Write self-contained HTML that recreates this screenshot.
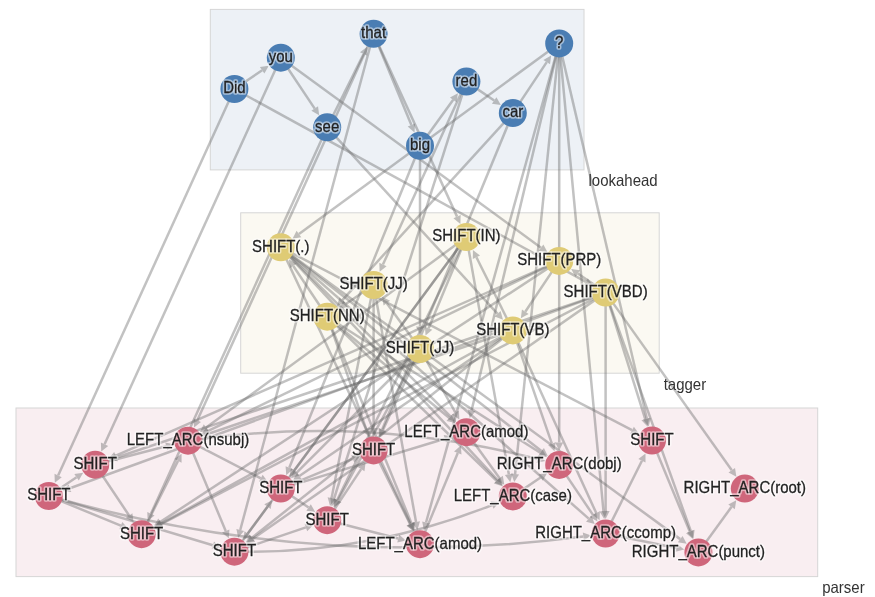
<!DOCTYPE html><html><head><meta charset="utf-8"><style>
html,body{margin:0;padding:0;background:#fff;width:875px;height:597px;overflow:hidden}
svg{display:block;will-change:transform}
text{font-family:"Liberation Sans",sans-serif;}
.lbl{font-size:15px;fill:#222;text-anchor:middle;stroke:#222;stroke-width:0.25px}
.halo{font-size:15px;fill:none;text-anchor:middle;stroke:#fff;stroke-opacity:0.5;stroke-width:3.5px;stroke-linejoin:round}
.cl{font-size:15px;fill:#333}
.eg{opacity:0.4}
.eg line{stroke:#666;stroke-width:2.5}
.eg path{fill:#666}
.eg path.ln{fill:none;stroke:#666;stroke-width:2.5}
</style></head><body>
<svg width="875" height="597" viewBox="0 0 875 597">

<rect x="210.3" y="9.4" width="373.7" height="160.5" fill="#edf1f6" stroke="#d6d6d6" stroke-width="1"/>
<rect x="240.7" y="212.8" width="418.5" height="160.4" fill="#fbf9f2" stroke="#d6d6d6" stroke-width="1"/>
<rect x="16.0" y="408.0" width="801.7" height="168.6" fill="#f9eef1" stroke="#d6d6d6" stroke-width="1"/>
<g class="eg"><line x1="234.40" y1="89.00" x2="262.15" y2="70.28"/><path d="M268.78,65.81L264.38,73.60L259.91,66.97Z"/></g>
<g class="eg"><line x1="280.80" y1="57.70" x2="314.72" y2="108.58"/><path d="M319.16,115.24L311.39,110.80L318.05,106.36Z"/></g>
<g class="eg"><line x1="327.20" y1="127.30" x2="363.60" y2="53.95"/><path d="M367.15,46.79L367.18,55.73L360.02,52.18Z"/></g>
<g class="eg"><line x1="373.60" y1="33.80" x2="411.39" y2="125.01"/><path d="M414.45,132.40L407.69,126.54L415.08,123.48Z"/></g>
<g class="eg"><line x1="420.00" y1="145.80" x2="453.22" y2="99.84"/><path d="M457.91,93.35L456.46,102.18L449.98,97.49Z"/></g>
<g class="eg"><line x1="466.40" y1="81.60" x2="494.18" y2="100.46"/><path d="M500.80,104.96L491.94,103.77L496.43,97.15Z"/></g>
<g class="eg"><line x1="512.80" y1="113.10" x2="546.73" y2="62.13"/><path d="M551.16,55.47L550.06,64.35L543.40,59.91Z"/></g>
<g class="eg"><line x1="234.40" y1="89.00" x2="585.87" y2="281.78"/><path d="M592.89,285.63L583.95,285.29L587.80,278.27Z"/></g>
<g class="eg"><line x1="280.80" y1="57.70" x2="541.03" y2="247.64"/><path d="M547.49,252.35L538.67,250.87L543.38,244.40Z"/></g>
<g class="eg"><line x1="327.20" y1="127.30" x2="497.62" y2="313.79"/><path d="M503.02,319.70L494.67,316.49L500.57,311.09Z"/></g>
<g class="eg"><line x1="373.60" y1="33.80" x2="457.06" y2="216.63"/><path d="M460.38,223.91L453.42,218.29L460.70,214.97Z"/></g>
<g class="eg"><line x1="420.00" y1="145.80" x2="420.00" y2="326.50"/><path d="M420.00,334.50L416.00,326.50L424.00,326.50Z"/></g>
<g class="eg"><line x1="466.40" y1="81.60" x2="382.94" y2="264.53"/><path d="M379.62,271.81L379.30,262.87L386.58,266.19Z"/></g>
<g class="eg"><line x1="512.80" y1="113.10" x2="342.36" y2="300.07"/><path d="M336.97,305.98L339.40,297.38L345.31,302.77Z"/></g>
<g class="eg"><line x1="559.20" y1="43.40" x2="298.95" y2="234.01"/><path d="M292.50,238.73L296.59,230.78L301.32,237.23Z"/></g>
<g class="eg"><line x1="605.60" y1="292.60" x2="577.78" y2="273.59"/><path d="M571.17,269.08L580.03,270.29L575.52,276.90Z"/></g>
<g class="eg"><line x1="559.20" y1="260.90" x2="525.29" y2="311.69"/><path d="M520.85,318.34L521.97,309.47L528.62,313.91Z"/></g>
<g class="eg"><line x1="512.80" y1="330.40" x2="476.42" y2="257.25"/><path d="M472.86,250.08L480.00,255.46L472.84,259.03Z"/></g>
<g class="eg"><line x1="466.40" y1="237.10" x2="428.62" y2="328.22"/><path d="M425.55,335.61L424.92,326.68L432.31,329.75Z"/></g>
<g class="eg"><line x1="420.00" y1="349.00" x2="386.81" y2="303.22"/><path d="M382.11,296.74L390.05,300.87L383.57,305.56Z"/></g>
<g class="eg"><line x1="373.60" y1="285.00" x2="345.78" y2="304.01"/><path d="M339.17,308.52L343.52,300.70L348.03,307.31Z"/></g>
<g class="eg"><line x1="327.20" y1="316.70" x2="293.31" y2="266.00"/><path d="M288.86,259.35L296.63,263.78L289.98,268.23Z"/></g>
<g class="eg"><line x1="234.40" y1="89.00" x2="58.14" y2="475.53"/><path d="M54.82,482.81L54.50,473.87L61.78,477.19Z"/></g>
<g class="eg"><line x1="280.80" y1="57.70" x2="104.54" y2="444.23"/><path d="M101.22,451.51L100.90,442.57L108.18,445.89Z"/></g>
<g class="eg"><line x1="327.20" y1="127.30" x2="150.94" y2="513.73"/><path d="M147.62,521.01L147.30,512.07L154.58,515.39Z"/></g>
<g class="eg"><line x1="373.60" y1="33.80" x2="197.34" y2="420.23"/><path d="M194.02,427.51L193.70,418.57L200.98,421.89Z"/></g>
<g class="eg"><line x1="373.60" y1="33.80" x2="240.24" y2="529.97"/><path d="M238.16,537.70L236.38,528.93L244.10,531.01Z"/></g>
<g class="eg"><line x1="420.00" y1="145.80" x2="289.27" y2="467.75"/><path d="M286.26,475.17L285.56,466.25L292.97,469.26Z"/></g>
<g class="eg"><line x1="466.40" y1="81.60" x2="334.01" y2="498.75"/><path d="M331.59,506.38L330.19,497.54L337.82,499.96Z"/></g>
<g class="eg"><line x1="512.80" y1="113.10" x2="382.18" y2="429.60"/><path d="M379.13,437.00L378.49,428.08L385.88,431.13Z"/></g>
<g class="eg"><line x1="559.20" y1="43.40" x2="426.03" y2="522.52"/><path d="M423.88,530.23L422.17,521.45L429.88,523.59Z"/></g>
<g class="eg"><line x1="559.20" y1="43.40" x2="471.62" y2="410.31"/><path d="M469.77,418.10L467.73,409.39L475.51,411.24Z"/></g>
<g class="eg"><line x1="559.20" y1="43.40" x2="515.09" y2="474.02"/><path d="M514.28,481.98L511.11,473.61L519.07,474.42Z"/></g>
<g class="eg"><line x1="559.20" y1="43.40" x2="559.20" y2="442.40"/><path d="M559.20,450.40L555.20,442.40L563.20,442.40Z"/></g>
<g class="eg"><line x1="559.20" y1="43.40" x2="603.48" y2="511.10"/><path d="M604.23,519.06L599.50,511.48L607.46,510.72Z"/></g>
<g class="eg"><line x1="559.20" y1="43.40" x2="646.88" y2="418.69"/><path d="M648.70,426.48L642.99,419.60L650.78,417.78Z"/></g>
<g class="eg"><line x1="605.60" y1="292.60" x2="69.93" y2="488.28"/><path d="M62.42,491.02L68.56,484.52L71.31,492.04Z"/></g>
<g class="eg"><line x1="559.20" y1="260.90" x2="115.80" y2="455.65"/><path d="M108.48,458.87L114.19,451.99L117.41,459.31Z"/></g>
<g class="eg"><line x1="605.60" y1="292.60" x2="116.52" y2="457.51"/><path d="M108.94,460.07L115.24,453.72L117.80,461.30Z"/></g>
<g class="eg"><line x1="512.80" y1="330.40" x2="161.32" y2="523.37"/><path d="M154.31,527.22L159.40,519.87L163.25,526.88Z"/></g>
<g class="eg"><line x1="559.20" y1="260.90" x2="160.43" y2="521.88"/><path d="M153.73,526.26L158.24,518.53L162.62,525.23Z"/></g>
<g class="eg"><line x1="605.60" y1="292.60" x2="161.56" y2="523.81"/><path d="M154.46,527.50L159.71,520.26L163.40,527.36Z"/></g>
<g class="eg"><line x1="466.40" y1="237.10" x2="206.16" y2="427.42"/><path d="M199.70,432.14L203.80,424.19L208.52,430.65Z"/></g>
<g class="eg"><line x1="512.80" y1="330.40" x2="209.31" y2="433.46"/><path d="M201.73,436.04L208.02,429.68L210.59,437.25Z"/></g>
<g class="eg"><line x1="559.20" y1="260.90" x2="208.25" y2="430.89"/><path d="M201.05,434.38L206.51,427.29L209.99,434.49Z"/></g>
<g class="eg"><line x1="466.40" y1="237.10" x2="247.75" y2="533.59"/><path d="M243.01,540.03L244.53,531.22L250.97,535.97Z"/></g>
<g class="eg"><line x1="512.80" y1="330.40" x2="252.01" y2="537.70"/><path d="M245.75,542.68L249.52,534.57L254.50,540.83Z"/></g>
<g class="eg"><line x1="605.60" y1="292.60" x2="252.85" y2="538.82"/><path d="M246.29,543.40L250.56,535.54L255.14,542.10Z"/></g>
<g class="eg"><line x1="420.00" y1="349.00" x2="296.69" y2="472.67"/><path d="M291.04,478.33L293.85,469.84L299.52,475.49Z"/></g>
<g class="eg"><line x1="466.40" y1="237.10" x2="294.16" y2="470.50"/><path d="M289.41,476.93L290.94,468.12L297.38,472.87Z"/></g>
<g class="eg"><line x1="512.80" y1="330.40" x2="299.39" y2="475.92"/><path d="M292.78,480.43L297.14,472.62L301.64,479.23Z"/></g>
<g class="eg"><line x1="373.60" y1="285.00" x2="331.55" y2="498.13"/><path d="M330.01,505.97L327.63,497.35L335.48,498.90Z"/></g>
<g class="eg"><line x1="420.00" y1="349.00" x2="337.92" y2="500.42"/><path d="M334.11,507.45L334.41,498.51L341.44,502.33Z"/></g>
<g class="eg"><line x1="466.40" y1="237.10" x2="337.13" y2="500.01"/><path d="M333.60,507.19L333.54,498.24L340.72,501.77Z"/></g>
<g class="eg"><line x1="327.20" y1="316.70" x2="366.22" y2="429.14"/><path d="M368.85,436.70L362.44,430.46L370.00,427.83Z"/></g>
<g class="eg"><line x1="373.60" y1="285.00" x2="373.60" y2="427.90"/><path d="M373.60,435.90L369.60,427.90L377.60,427.90Z"/></g>
<g class="eg"><line x1="420.00" y1="349.00" x2="382.96" y2="429.94"/><path d="M379.63,437.21L379.32,428.28L386.60,431.60Z"/></g>
<g class="eg"><line x1="280.80" y1="247.30" x2="410.45" y2="523.83"/><path d="M413.84,531.07L406.83,525.53L414.07,522.13Z"/></g>
<g class="eg"><line x1="327.20" y1="316.70" x2="411.50" y2="523.37"/><path d="M414.52,530.77L407.80,524.88L415.21,521.86Z"/></g>
<g class="eg"><line x1="373.60" y1="285.00" x2="416.04" y2="522.05"/><path d="M417.44,529.93L412.10,522.76L419.97,521.35Z"/></g>
<g class="eg"><line x1="280.80" y1="247.30" x2="450.46" y2="416.32"/><path d="M456.13,421.97L447.64,419.15L453.28,413.49Z"/></g>
<g class="eg"><line x1="327.20" y1="316.70" x2="449.08" y2="417.83"/><path d="M455.24,422.94L446.53,420.91L451.64,414.75Z"/></g>
<g class="eg"><line x1="420.00" y1="349.00" x2="455.44" y2="412.55"/><path d="M459.34,419.54L451.95,414.50L458.93,410.60Z"/></g>
<g class="eg"><line x1="280.80" y1="247.30" x2="497.47" y2="479.94"/><path d="M502.92,485.79L494.54,482.66L500.39,477.21Z"/></g>
<g class="eg"><line x1="327.20" y1="316.70" x2="496.64" y2="480.75"/><path d="M502.38,486.31L493.85,483.62L499.42,477.88Z"/></g>
<g class="eg"><line x1="466.40" y1="237.10" x2="508.84" y2="474.25"/><path d="M510.25,482.13L504.90,474.96L512.77,473.55Z"/></g>
<g class="eg"><line x1="280.80" y1="247.30" x2="541.47" y2="451.04"/><path d="M547.78,455.97L539.01,454.20L543.94,447.89Z"/></g>
<g class="eg"><line x1="327.20" y1="316.70" x2="540.24" y2="452.79"/><path d="M546.98,457.09L538.09,456.16L542.39,449.42Z"/></g>
<g class="eg"><line x1="512.80" y1="330.40" x2="551.86" y2="443.63"/><path d="M554.47,451.19L548.08,444.93L555.64,442.33Z"/></g>
<g class="eg"><line x1="280.80" y1="247.30" x2="588.72" y2="518.62"/><path d="M594.72,523.91L586.07,521.63L591.36,515.62Z"/></g>
<g class="eg"><line x1="512.80" y1="330.40" x2="596.25" y2="513.04"/><path d="M599.57,520.31L592.61,514.70L599.89,511.37Z"/></g>
<g class="eg"><line x1="605.60" y1="292.60" x2="605.60" y2="511.00"/><path d="M605.60,519.00L601.60,511.00L609.60,511.00Z"/></g>
<g class="eg"><line x1="280.80" y1="247.30" x2="632.04" y2="430.21"/><path d="M639.14,433.90L630.20,433.76L633.89,426.66Z"/></g>
<g class="eg"><line x1="605.60" y1="292.60" x2="645.27" y2="419.13"/><path d="M647.66,426.76L641.45,420.33L649.09,417.93Z"/></g>
<g class="eg"><line x1="280.80" y1="247.30" x2="680.23" y2="539.13"/><path d="M686.69,543.85L677.87,542.36L682.59,535.90Z"/></g>
<g class="eg"><line x1="605.60" y1="292.60" x2="690.83" y2="531.21"/><path d="M693.52,538.74L687.06,532.56L694.60,529.87Z"/></g>
<g class="eg"><line x1="605.60" y1="292.60" x2="731.77" y2="470.26"/><path d="M736.40,476.78L728.51,472.57L735.03,467.94Z"/></g>
<g class="eg"><line x1="48.80" y1="496.00" x2="76.55" y2="477.28"/><path d="M83.18,472.81L78.78,480.60L74.31,473.97Z"/></g>
<g class="eg"><line x1="95.20" y1="464.70" x2="129.11" y2="515.49"/><path d="M133.55,522.14L125.78,517.71L132.43,513.27Z"/></g>
<g class="eg"><line x1="48.80" y1="496.00" x2="120.79" y2="525.64"/><path d="M128.19,528.68L119.27,529.33L122.32,521.94Z"/></g>
<g class="eg"><line x1="141.60" y1="534.20" x2="178.00" y2="460.85"/><path d="M181.55,453.69L181.58,462.63L174.42,459.08Z"/></g>
<g class="eg"><line x1="95.20" y1="464.70" x2="166.22" y2="446.33"/><path d="M173.96,444.33L167.22,450.21L165.22,442.46Z"/></g>
<g class="eg"><line x1="188.00" y1="440.70" x2="225.72" y2="530.94"/><path d="M228.81,538.32L222.03,532.48L229.41,529.40Z"/></g>
<g class="eg"><line x1="48.80" y1="496.00" x2="212.85" y2="545.23"/><path d="M220.51,547.53L211.70,549.06L214.00,541.40Z"/></g>
<g class="eg"><line x1="234.40" y1="551.70" x2="267.47" y2="506.73"/><path d="M272.21,500.28L270.69,509.10L264.25,504.36Z"/></g>
<g class="eg"><line x1="188.00" y1="440.70" x2="260.81" y2="478.28"/><path d="M267.92,481.95L258.97,481.83L262.64,474.73Z"/></g>
<g class="eg"><line x1="280.80" y1="488.60" x2="308.60" y2="507.53"/><path d="M315.22,512.04L306.35,510.84L310.85,504.23Z"/></g>
<g class="eg"><line x1="234.40" y1="551.70" x2="305.89" y2="527.43"/><path d="M313.47,524.86L307.18,531.22L304.61,523.64Z"/></g>
<g class="eg"><line x1="327.20" y1="520.20" x2="361.14" y2="469.14"/><path d="M365.57,462.48L364.48,471.35L357.81,466.92Z"/></g>
<g class="eg"><line x1="280.80" y1="488.60" x2="352.79" y2="458.96"/><path d="M360.19,455.92L354.32,462.66L351.27,455.27Z"/></g>
<g class="eg"><line x1="373.60" y1="450.40" x2="410.02" y2="524.03"/><path d="M413.57,531.20L406.44,525.81L413.61,522.26Z"/></g>
<g class="eg"><line x1="327.20" y1="520.20" x2="398.22" y2="538.57"/><path d="M405.96,540.57L397.22,542.44L399.22,534.69Z"/></g>
<g class="eg"><line x1="420.00" y1="544.20" x2="457.79" y2="452.99"/><path d="M460.85,445.60L461.48,454.52L454.09,451.46Z"/></g>
<g class="eg"><line x1="280.80" y1="488.60" x2="444.87" y2="438.74"/><path d="M452.53,436.42L446.04,442.57L443.71,434.91Z"/></g>
<g class="eg"><line x1="466.40" y1="432.20" x2="499.62" y2="478.16"/><path d="M504.31,484.65L496.38,480.51L502.86,475.82Z"/></g>
<g class="eg"><path class="ln" d="M234.40,551.70Q368.35,554.24 492.03,505.06"/><path d="M499.45,502.06L493.53,508.76L490.53,501.35Z"/></g>
<g class="eg"><line x1="512.80" y1="496.40" x2="540.58" y2="477.54"/><path d="M547.20,473.04L542.83,480.85L538.34,474.23Z"/></g>
<g class="eg"><path class="ln" d="M188.00,440.70Q365.04,414.53 537.48,459.01"/><path d="M545.22,461.05L536.47,462.88L538.50,455.14Z"/></g>
<g class="eg"><line x1="559.20" y1="464.90" x2="592.99" y2="514.86"/><path d="M597.48,521.49L589.68,517.10L596.31,512.62Z"/></g>
<g class="eg"><path class="ln" d="M48.80,496.00Q312.33,571.51 583.31,536.56"/><path d="M591.24,535.51L583.83,540.53L582.79,532.59Z"/></g>
<g class="eg"><line x1="605.60" y1="533.50" x2="641.95" y2="460.73"/><path d="M645.52,453.57L645.52,462.52L638.37,458.94Z"/></g>
<g class="eg"><line x1="652.00" y1="440.60" x2="689.78" y2="531.62"/><path d="M692.84,539.01L686.08,533.15L693.47,530.09Z"/></g>
<g class="eg"><line x1="605.60" y1="533.50" x2="676.35" y2="547.91"/><path d="M684.19,549.51L675.55,551.83L677.15,543.99Z"/></g>
<g class="eg"><line x1="698.40" y1="552.40" x2="731.57" y2="506.80"/><path d="M736.27,500.33L734.80,509.15L728.33,504.44Z"/></g>
<circle cx="234.4" cy="89.0" r="14.0" fill="#4a7db3"/>
<circle cx="280.8" cy="57.7" r="14.0" fill="#4a7db3"/>
<circle cx="327.2" cy="127.3" r="14.0" fill="#4a7db3"/>
<circle cx="373.6" cy="33.8" r="14.0" fill="#4a7db3"/>
<circle cx="420.0" cy="145.8" r="14.0" fill="#4a7db3"/>
<circle cx="466.4" cy="81.6" r="14.0" fill="#4a7db3"/>
<circle cx="512.8" cy="113.1" r="14.0" fill="#4a7db3"/>
<circle cx="559.2" cy="43.4" r="14.0" fill="#4a7db3"/>
<circle cx="280.8" cy="247.3" r="14.0" fill="#dfcb75"/>
<circle cx="327.2" cy="316.7" r="14.0" fill="#dfcb75"/>
<circle cx="373.6" cy="285.0" r="14.0" fill="#dfcb75"/>
<circle cx="420.0" cy="349.0" r="14.0" fill="#dfcb75"/>
<circle cx="466.4" cy="237.1" r="14.0" fill="#dfcb75"/>
<circle cx="512.8" cy="330.4" r="14.0" fill="#dfcb75"/>
<circle cx="559.2" cy="260.9" r="14.0" fill="#dfcb75"/>
<circle cx="605.6" cy="292.6" r="14.0" fill="#dfcb75"/>
<circle cx="48.8" cy="496.0" r="14.0" fill="#cf667b"/>
<circle cx="95.2" cy="464.7" r="14.0" fill="#cf667b"/>
<circle cx="141.6" cy="534.2" r="14.0" fill="#cf667b"/>
<circle cx="188.0" cy="440.7" r="14.0" fill="#cf667b"/>
<circle cx="234.4" cy="551.7" r="14.0" fill="#cf667b"/>
<circle cx="280.8" cy="488.6" r="14.0" fill="#cf667b"/>
<circle cx="327.2" cy="520.2" r="14.0" fill="#cf667b"/>
<circle cx="373.6" cy="450.4" r="14.0" fill="#cf667b"/>
<circle cx="420.0" cy="544.2" r="14.0" fill="#cf667b"/>
<circle cx="466.4" cy="432.2" r="14.0" fill="#cf667b"/>
<circle cx="512.8" cy="496.4" r="14.0" fill="#cf667b"/>
<circle cx="559.2" cy="464.9" r="14.0" fill="#cf667b"/>
<circle cx="605.6" cy="533.5" r="14.0" fill="#cf667b"/>
<circle cx="652.0" cy="440.6" r="14.0" fill="#cf667b"/>
<circle cx="698.4" cy="552.4" r="14.0" fill="#cf667b"/>
<circle cx="744.8" cy="488.6" r="14.0" fill="#cf667b"/>
<text class="halo" transform="translate(234.40,93.30) scale(1,1.045)">Did</text>
<text class="halo" transform="translate(280.80,62.00) scale(1,1.045)">you</text>
<text class="halo" transform="translate(327.20,131.60) scale(1,1.045)">see</text>
<text class="halo" transform="translate(373.60,38.10) scale(1,1.045)">that</text>
<text class="halo" transform="translate(420.00,150.10) scale(1,1.045)">big</text>
<text class="halo" transform="translate(466.40,85.90) scale(1,1.045)">red</text>
<text class="halo" transform="translate(512.80,117.40) scale(1,1.045)">car</text>
<text class="halo" transform="translate(559.20,47.70) scale(1,1.045)">?</text>
<text class="halo" transform="translate(280.80,251.60) scale(1,1.045)">SHIFT(.)</text>
<text class="halo" transform="translate(327.20,321.00) scale(1,1.045)">SHIFT(NN)</text>
<text class="halo" transform="translate(373.60,289.30) scale(1,1.045)">SHIFT(JJ)</text>
<text class="halo" transform="translate(420.00,353.30) scale(1,1.045)">SHIFT(JJ)</text>
<text class="halo" transform="translate(466.40,241.40) scale(1,1.045)">SHIFT(IN)</text>
<text class="halo" transform="translate(512.80,334.70) scale(1,1.045)">SHIFT(VB)</text>
<text class="halo" transform="translate(559.20,265.20) scale(1,1.045)">SHIFT(PRP)</text>
<text class="halo" transform="translate(605.60,296.90) scale(1,1.045)">SHIFT(VBD)</text>
<text class="halo" transform="translate(48.80,500.30) scale(1,1.045)">SHIFT</text>
<text class="halo" transform="translate(95.20,469.00) scale(1,1.045)">SHIFT</text>
<text class="halo" transform="translate(141.60,538.50) scale(1,1.045)">SHIFT</text>
<text class="halo" transform="translate(188.00,445.00) scale(1,1.045)">LEFT_ARC(nsubj)</text>
<text class="halo" transform="translate(234.40,556.00) scale(1,1.045)">SHIFT</text>
<text class="halo" transform="translate(280.80,492.90) scale(1,1.045)">SHIFT</text>
<text class="halo" transform="translate(327.20,524.50) scale(1,1.045)">SHIFT</text>
<text class="halo" transform="translate(373.60,454.70) scale(1,1.045)">SHIFT</text>
<text class="halo" transform="translate(420.00,548.50) scale(1,1.045)">LEFT_ARC(amod)</text>
<text class="halo" transform="translate(466.40,436.50) scale(1,1.045)">LEFT_ARC(amod)</text>
<text class="halo" transform="translate(512.80,500.70) scale(1,1.045)">LEFT_ARC(case)</text>
<text class="halo" transform="translate(559.20,469.20) scale(1,1.045)">RIGHT_ARC(dobj)</text>
<text class="halo" transform="translate(605.60,537.80) scale(1,1.045)">RIGHT_ARC(ccomp)</text>
<text class="halo" transform="translate(652.00,444.90) scale(1,1.045)">SHIFT</text>
<text class="halo" transform="translate(698.40,556.70) scale(1,1.045)">RIGHT_ARC(punct)</text>
<text class="halo" transform="translate(744.80,492.90) scale(1,1.045)">RIGHT_ARC(root)</text>
<text class="lbl" transform="translate(234.40,93.30) scale(1,1.045)">Did</text>
<text class="lbl" transform="translate(280.80,62.00) scale(1,1.045)">you</text>
<text class="lbl" transform="translate(327.20,131.60) scale(1,1.045)">see</text>
<text class="lbl" transform="translate(373.60,38.10) scale(1,1.045)">that</text>
<text class="lbl" transform="translate(420.00,150.10) scale(1,1.045)">big</text>
<text class="lbl" transform="translate(466.40,85.90) scale(1,1.045)">red</text>
<text class="lbl" transform="translate(512.80,117.40) scale(1,1.045)">car</text>
<text class="lbl" transform="translate(559.20,47.70) scale(1,1.045)">?</text>
<text class="lbl" transform="translate(280.80,251.60) scale(1,1.045)">SHIFT(.)</text>
<text class="lbl" transform="translate(327.20,321.00) scale(1,1.045)">SHIFT(NN)</text>
<text class="lbl" transform="translate(373.60,289.30) scale(1,1.045)">SHIFT(JJ)</text>
<text class="lbl" transform="translate(420.00,353.30) scale(1,1.045)">SHIFT(JJ)</text>
<text class="lbl" transform="translate(466.40,241.40) scale(1,1.045)">SHIFT(IN)</text>
<text class="lbl" transform="translate(512.80,334.70) scale(1,1.045)">SHIFT(VB)</text>
<text class="lbl" transform="translate(559.20,265.20) scale(1,1.045)">SHIFT(PRP)</text>
<text class="lbl" transform="translate(605.60,296.90) scale(1,1.045)">SHIFT(VBD)</text>
<text class="lbl" transform="translate(48.80,500.30) scale(1,1.045)">SHIFT</text>
<text class="lbl" transform="translate(95.20,469.00) scale(1,1.045)">SHIFT</text>
<text class="lbl" transform="translate(141.60,538.50) scale(1,1.045)">SHIFT</text>
<text class="lbl" transform="translate(188.00,445.00) scale(1,1.045)">LEFT_ARC(nsubj)</text>
<text class="lbl" transform="translate(234.40,556.00) scale(1,1.045)">SHIFT</text>
<text class="lbl" transform="translate(280.80,492.90) scale(1,1.045)">SHIFT</text>
<text class="lbl" transform="translate(327.20,524.50) scale(1,1.045)">SHIFT</text>
<text class="lbl" transform="translate(373.60,454.70) scale(1,1.045)">SHIFT</text>
<text class="lbl" transform="translate(420.00,548.50) scale(1,1.045)">LEFT_ARC(amod)</text>
<text class="lbl" transform="translate(466.40,436.50) scale(1,1.045)">LEFT_ARC(amod)</text>
<text class="lbl" transform="translate(512.80,500.70) scale(1,1.045)">LEFT_ARC(case)</text>
<text class="lbl" transform="translate(559.20,469.20) scale(1,1.045)">RIGHT_ARC(dobj)</text>
<text class="lbl" transform="translate(605.60,537.80) scale(1,1.045)">RIGHT_ARC(ccomp)</text>
<text class="lbl" transform="translate(652.00,444.90) scale(1,1.045)">SHIFT</text>
<text class="lbl" transform="translate(698.40,556.70) scale(1,1.045)">RIGHT_ARC(punct)</text>
<text class="lbl" transform="translate(744.80,492.90) scale(1,1.045)">RIGHT_ARC(root)</text>
<text class="cl" transform="translate(588.50,186.20) scale(1,1.045)">lookahead</text>
<text class="cl" transform="translate(663.70,389.50) scale(1,1.045)">tagger</text>
<text class="cl" transform="translate(822.20,592.90) scale(1,1.045)">parser</text>
</svg></body></html>
